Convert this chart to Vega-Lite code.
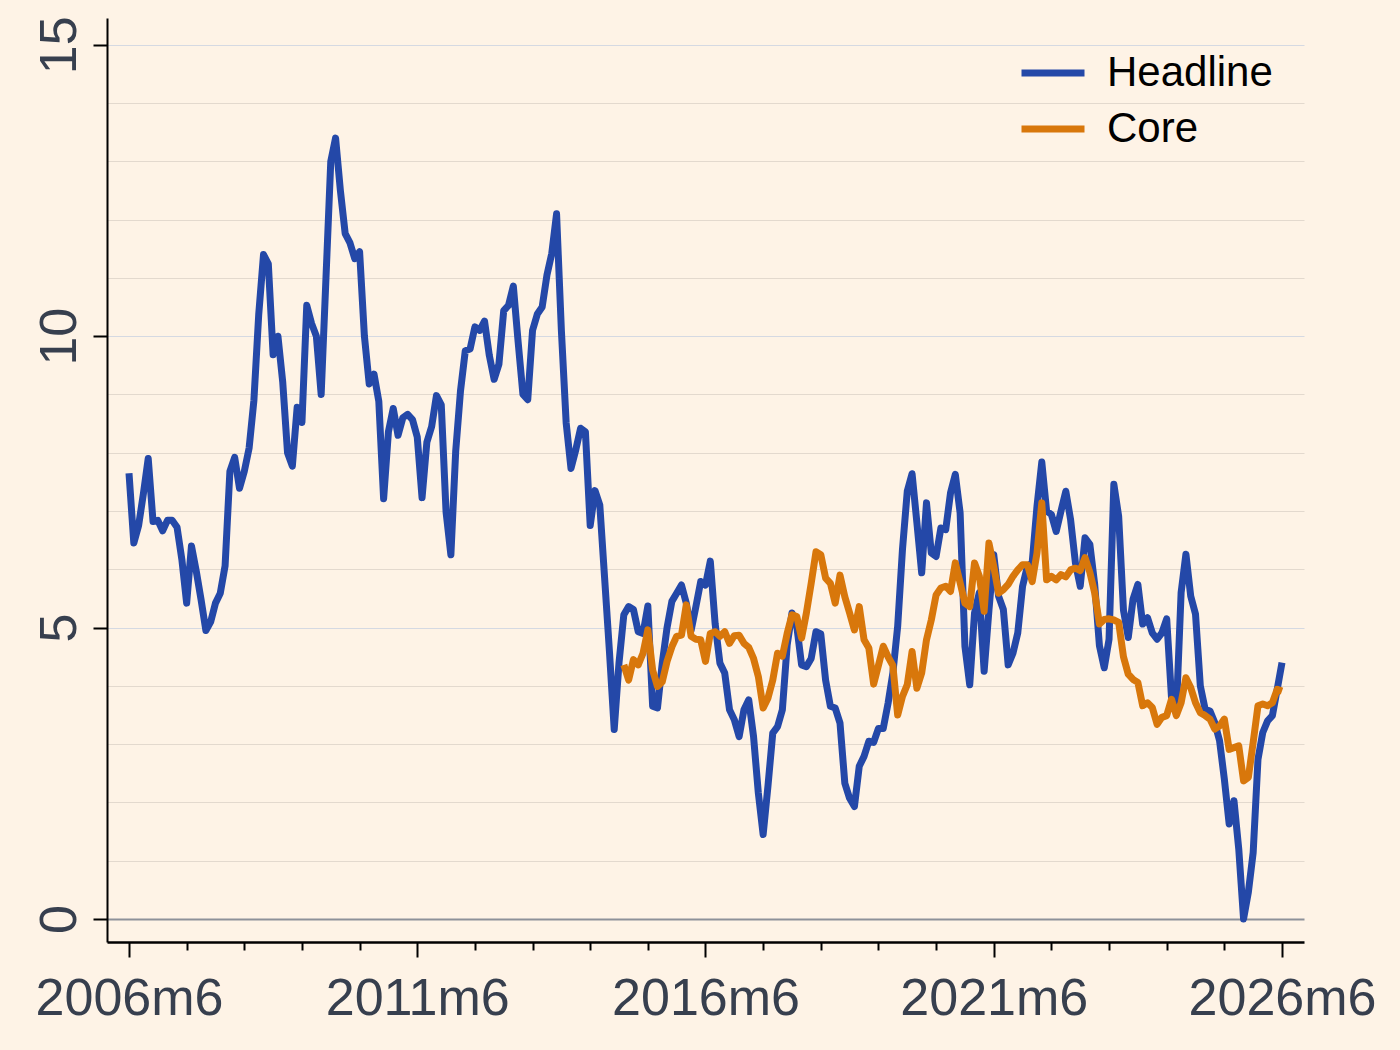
{
  "$schema": "https://vega.github.io/schema/vega-lite/v6.json",
  "width": 1197,
  "height": 924,
  "autosize": {"type": "none"},
  "padding": {"left": 107, "top": 18, "right": 96, "bottom": 108},
  "background": "#fef3e6",
  "config": {"view": {"stroke": null}, "font": "Liberation Sans"},
  "data": {
    "values": [
      {"m": 0, "Headline": 7.65}, {"m": 1, "Headline": 6.45}, {"m": 2, "Headline": 6.75}, {"m": 3, "Headline": 7.3},
      {"m": 4, "Headline": 7.9}, {"m": 5, "Headline": 6.82}, {"m": 6, "Headline": 6.84}, {"m": 7, "Headline": 6.66},
      {"m": 8, "Headline": 6.84}, {"m": 9, "Headline": 6.84}, {"m": 10, "Headline": 6.72}, {"m": 11, "Headline": 6.17},
      {"m": 12, "Headline": 5.42}, {"m": 13, "Headline": 6.4}, {"m": 14, "Headline": 5.97}, {"m": 15, "Headline": 5.48},
      {"m": 16, "Headline": 4.95}, {"m": 17, "Headline": 5.1}, {"m": 18, "Headline": 5.42}, {"m": 19, "Headline": 5.59},
      {"m": 20, "Headline": 6.06}, {"m": 21, "Headline": 7.68}, {"m": 22, "Headline": 7.92}, {"m": 23, "Headline": 7.39},
      {"m": 24, "Headline": 7.68}, {"m": 25, "Headline": 8.08}, {"m": 26, "Headline": 8.9}, {"m": 27, "Headline": 10.37},
      {"m": 28, "Headline": 11.4}, {"m": 29, "Headline": 11.24}, {"m": 30, "Headline": 9.68}, {"m": 31, "Headline": 10.0},
      {"m": 32, "Headline": 9.21}, {"m": 33, "Headline": 8.0}, {"m": 34, "Headline": 7.77}, {"m": 35, "Headline": 8.78},
      {"m": 36, "Headline": 8.52}, {"m": 37, "Headline": 10.53}, {"m": 38, "Headline": 10.22}, {"m": 39, "Headline": 10.0},
      {"m": 40, "Headline": 9.0}, {"m": 41, "Headline": 11.0}, {"m": 42, "Headline": 13.0}, {"m": 43, "Headline": 13.4},
      {"m": 44, "Headline": 12.5}, {"m": 45, "Headline": 11.76}, {"m": 46, "Headline": 11.6}, {"m": 47, "Headline": 11.33},
      {"m": 48, "Headline": 11.45}, {"m": 49, "Headline": 10.0}, {"m": 50, "Headline": 9.18}, {"m": 51, "Headline": 9.35},
      {"m": 52, "Headline": 8.88}, {"m": 53, "Headline": 7.21}, {"m": 54, "Headline": 8.36}, {"m": 55, "Headline": 8.76},
      {"m": 56, "Headline": 8.3}, {"m": 57, "Headline": 8.6}, {"m": 58, "Headline": 8.66}, {"m": 59, "Headline": 8.57},
      {"m": 60, "Headline": 8.27}, {"m": 61, "Headline": 7.23}, {"m": 62, "Headline": 8.18}, {"m": 63, "Headline": 8.45},
      {"m": 64, "Headline": 8.98}, {"m": 65, "Headline": 8.82}, {"m": 66, "Headline": 6.98}, {"m": 67, "Headline": 6.25},
      {"m": 68, "Headline": 8.02}, {"m": 69, "Headline": 9.06}, {"m": 70, "Headline": 9.75}, {"m": 71, "Headline": 9.78},
      {"m": 72, "Headline": 10.16}, {"m": 73, "Headline": 10.1}, {"m": 74, "Headline": 10.26}, {"m": 75, "Headline": 9.67},
      {"m": 76, "Headline": 9.26}, {"m": 77, "Headline": 9.52}, {"m": 78, "Headline": 10.44}, {"m": 79, "Headline": 10.53},
      {"m": 80, "Headline": 10.86}, {"m": 81, "Headline": 9.9}, {"m": 82, "Headline": 9.0}, {"m": 83, "Headline": 8.91},
      {"m": 84, "Headline": 10.1}, {"m": 85, "Headline": 10.38}, {"m": 86, "Headline": 10.5}, {"m": 87, "Headline": 11.05},
      {"m": 88, "Headline": 11.42}, {"m": 89, "Headline": 12.1}, {"m": 90, "Headline": 10.1}, {"m": 91, "Headline": 8.51},
      {"m": 92, "Headline": 7.73}, {"m": 93, "Headline": 8.05}, {"m": 94, "Headline": 8.42}, {"m": 95, "Headline": 8.36},
      {"m": 96, "Headline": 6.75}, {"m": 97, "Headline": 7.35}, {"m": 98, "Headline": 7.1}, {"m": 99, "Headline": 5.85},
      {"m": 100, "Headline": 4.6}, {"m": 101, "Headline": 3.25}, {"m": 102, "Headline": 4.4},
      {"m": 103, "Headline": 5.22, "Core": 4.36}, {"m": 104, "Headline": 5.36, "Core": 4.1},
      {"m": 105, "Headline": 5.31, "Core": 4.45}, {"m": 106, "Headline": 4.93, "Core": 4.36},
      {"m": 107, "Headline": 4.9, "Core": 4.56}, {"m": 108, "Headline": 5.37, "Core": 4.96},
      {"m": 109, "Headline": 3.65, "Core": 4.27}, {"m": 110, "Headline": 3.62, "Core": 3.99},
      {"m": 111, "Headline": 4.39, "Core": 4.07}, {"m": 112, "Headline": 5.0, "Core": 4.42},
      {"m": 113, "Headline": 5.45, "Core": 4.67}, {"m": 114, "Headline": 5.59, "Core": 4.85},
      {"m": 115, "Headline": 5.73, "Core": 4.87}, {"m": 116, "Headline": 5.42, "Core": 5.39},
      {"m": 117, "Headline": 4.95, "Core": 4.85}, {"m": 118, "Headline": 5.36, "Core": 4.8},
      {"m": 119, "Headline": 5.79, "Core": 4.79}, {"m": 120, "Headline": 5.73, "Core": 4.42},
      {"m": 121, "Headline": 6.14, "Core": 4.9}, {"m": 122, "Headline": 5.07, "Core": 4.93},
      {"m": 123, "Headline": 4.39, "Core": 4.85}, {"m": 124, "Headline": 4.22, "Core": 4.93},
      {"m": 125, "Headline": 3.59, "Core": 4.73}, {"m": 126, "Headline": 3.42, "Core": 4.86},
      {"m": 127, "Headline": 3.13, "Core": 4.87}, {"m": 128, "Headline": 3.59, "Core": 4.73},
      {"m": 129, "Headline": 3.76, "Core": 4.66}, {"m": 130, "Headline": 3.13, "Core": 4.47},
      {"m": 131, "Headline": 2.16, "Core": 4.16}, {"m": 132, "Headline": 1.45, "Core": 3.62},
      {"m": 133, "Headline": 2.28, "Core": 3.79}, {"m": 134, "Headline": 3.19, "Core": 4.1},
      {"m": 135, "Headline": 3.3, "Core": 4.56}, {"m": 136, "Headline": 3.59, "Core": 4.51},
      {"m": 137, "Headline": 4.7, "Core": 4.9}, {"m": 138, "Headline": 5.25, "Core": 5.22},
      {"m": 139, "Headline": 5.02, "Core": 5.19}, {"m": 140, "Headline": 4.36, "Core": 4.82},
      {"m": 141, "Headline": 4.33, "Core": 5.25}, {"m": 142, "Headline": 4.47, "Core": 5.76},
      {"m": 143, "Headline": 4.93, "Core": 6.3}, {"m": 144, "Headline": 4.89, "Core": 6.25},
      {"m": 145, "Headline": 4.1, "Core": 5.85}, {"m": 146, "Headline": 3.65, "Core": 5.76},
      {"m": 147, "Headline": 3.62, "Core": 5.42}, {"m": 148, "Headline": 3.36, "Core": 5.9},
      {"m": 149, "Headline": 2.33, "Core": 5.53}, {"m": 150, "Headline": 2.07, "Core": 5.25},
      {"m": 151, "Headline": 1.93, "Core": 4.96}, {"m": 152, "Headline": 2.62, "Core": 5.36},
      {"m": 153, "Headline": 2.79, "Core": 4.79}, {"m": 154, "Headline": 3.05, "Core": 4.65},
      {"m": 155, "Headline": 3.03, "Core": 4.03}, {"m": 156, "Headline": 3.27, "Core": 4.35},
      {"m": 157, "Headline": 3.27, "Core": 4.68}, {"m": 158, "Headline": 3.7, "Core": 4.5},
      {"m": 159, "Headline": 4.22, "Core": 4.35}, {"m": 160, "Headline": 5.02, "Core": 3.5},
      {"m": 161, "Headline": 6.34, "Core": 3.82}, {"m": 162, "Headline": 7.34, "Core": 4.02},
      {"m": 163, "Headline": 7.64, "Core": 4.59}, {"m": 164, "Headline": 6.8, "Core": 3.96},
      {"m": 165, "Headline": 5.94, "Core": 4.22}, {"m": 166, "Headline": 7.14, "Core": 4.79},
      {"m": 167, "Headline": 6.28, "Core": 5.13}, {"m": 168, "Headline": 6.22, "Core": 5.56},
      {"m": 169, "Headline": 6.71, "Core": 5.68}, {"m": 170, "Headline": 6.68, "Core": 5.71},
      {"m": 171, "Headline": 7.31, "Core": 5.62}, {"m": 172, "Headline": 7.63, "Core": 6.11},
      {"m": 173, "Headline": 6.97, "Core": 5.77}, {"m": 174, "Headline": 4.68, "Core": 5.42},
      {"m": 175, "Headline": 4.02, "Core": 5.36}, {"m": 176, "Headline": 5.25, "Core": 6.11},
      {"m": 177, "Headline": 5.6, "Core": 5.88}, {"m": 178, "Headline": 4.25, "Core": 5.28},
      {"m": 179, "Headline": 5.3, "Core": 6.45}, {"m": 180, "Headline": 6.25, "Core": 6.05},
      {"m": 181, "Headline": 5.54, "Core": 5.59}, {"m": 182, "Headline": 5.31, "Core": 5.65},
      {"m": 183, "Headline": 4.36, "Core": 5.74}, {"m": 184, "Headline": 4.56, "Core": 5.88},
      {"m": 185, "Headline": 4.91, "Core": 5.99}, {"m": 186, "Headline": 5.71, "Core": 6.08},
      {"m": 187, "Headline": 6.05, "Core": 6.08}, {"m": 188, "Headline": 6.11, "Core": 5.79},
      {"m": 189, "Headline": 7.08, "Core": 6.28}, {"m": 190, "Headline": 7.84, "Core": 7.14},
      {"m": 191, "Headline": 7.0, "Core": 5.82}, {"m": 192, "Headline": 6.94, "Core": 5.88},
      {"m": 193, "Headline": 6.65, "Core": 5.82}, {"m": 194, "Headline": 7.0, "Core": 5.91},
      {"m": 195, "Headline": 7.34, "Core": 5.87}, {"m": 196, "Headline": 6.85, "Core": 5.99},
      {"m": 197, "Headline": 6.11, "Core": 6.02}, {"m": 198, "Headline": 5.71, "Core": 5.98},
      {"m": 199, "Headline": 6.54, "Core": 6.2}, {"m": 200, "Headline": 6.43, "Core": 5.95},
      {"m": 201, "Headline": 5.75, "Core": 5.6}, {"m": 202, "Headline": 4.69, "Core": 5.06},
      {"m": 203, "Headline": 4.31, "Core": 5.14}, {"m": 204, "Headline": 4.8, "Core": 5.15},
      {"m": 205, "Headline": 7.46, "Core": 5.13}, {"m": 206, "Headline": 6.91, "Core": 5.09},
      {"m": 207, "Headline": 5.3, "Core": 4.5}, {"m": 208, "Headline": 4.83, "Core": 4.2},
      {"m": 209, "Headline": 5.49, "Core": 4.11}, {"m": 210, "Headline": 5.74, "Core": 4.06},
      {"m": 211, "Headline": 5.06, "Core": 3.66}, {"m": 212, "Headline": 5.17, "Core": 3.71},
      {"m": 213, "Headline": 4.91, "Core": 3.63}, {"m": 214, "Headline": 4.8, "Core": 3.34},
      {"m": 215, "Headline": 4.91, "Core": 3.46}, {"m": 216, "Headline": 5.15, "Core": 3.49},
      {"m": 217, "Headline": 3.8, "Core": 3.77}, {"m": 218, "Headline": 3.54, "Core": 3.49},
      {"m": 219, "Headline": 5.6, "Core": 3.71}, {"m": 220, "Headline": 6.26, "Core": 4.14},
      {"m": 221, "Headline": 5.54, "Core": 3.97}, {"m": 222, "Headline": 5.23, "Core": 3.71},
      {"m": 223, "Headline": 4.0, "Core": 3.54}, {"m": 224, "Headline": 3.6, "Core": 3.49},
      {"m": 225, "Headline": 3.57, "Core": 3.43}, {"m": 226, "Headline": 3.37, "Core": 3.26},
      {"m": 227, "Headline": 3.06, "Core": 3.31}, {"m": 228, "Headline": 2.4, "Core": 3.43},
      {"m": 229, "Headline": 1.63, "Core": 2.91}, {"m": 230, "Headline": 2.03, "Core": 2.94},
      {"m": 231, "Headline": 1.2, "Core": 2.97}, {"m": 232, "Headline": 0.0, "Core": 2.37},
      {"m": 233, "Headline": 0.46, "Core": 2.43}, {"m": 234, "Headline": 1.14, "Core": 3.03},
      {"m": 235, "Headline": 2.74, "Core": 3.66}, {"m": 236, "Headline": 3.2, "Core": 3.69},
      {"m": 237, "Headline": 3.4, "Core": 3.66}, {"m": 238, "Headline": 3.49, "Core": 3.71},
      {"m": 239, "Headline": 3.94, "Core": 3.94}, {"m": 240, "Headline": 4.4, "Core": 3.91}
    ]
  },
  "transform": [
    {"fold": ["Headline", "Core"], "as": ["series", "rate"]}
  ],
  "encoding": {
    "x": {
      "field": "m",
      "type": "quantitative",
      "scale": {"domain": [-4.58, 244.58], "nice": false, "zero": false},
      "axis": {
        "title": null,
        "grid": false,
        "values": [0, 12, 24, 36, 48, 60, 72, 84, 96, 108, 120, 132, 144, 156, 168, 180, 192, 204, 216, 228, 240],
        "labelExpr": "datum.value % 60 === 0 ? (floor((datum.value + 5) / 12) + 2006) + 'm' + ((datum.value + 5) % 12 + 1) : ''",
        "tickSize": {"condition": {"test": "datum.value % 60 === 0", "value": 15}, "value": 8},
        "tickWidth": 2,
        "tickColor": "#000000",
        "domainColor": "#000000",
        "domainWidth": 2.5,
        "labelFont": "Liberation Sans",
        "labelFontSize": 52,
        "labelColor": "#373f4e",
        "labelPadding": 16,
        "labelLimit": 0,
        "labelFlush": false,
        "labelOverlap": false,
        "labelBound": false
      }
    },
    "y": {
      "field": "rate",
      "type": "quantitative",
      "scale": {"domain": [-0.395, 15.46], "nice": false, "zero": false},
      "axis": {
        "title": null,
        "values": [0, 1, 2, 3, 4, 5, 6, 7, 8, 9, 10, 11, 12, 13, 14, 15],
        "grid": true,
        "gridColor": {"condition": [{"test": "datum.value === 0", "value": "#8d9199"}, {"test": "datum.value % 5 === 0", "value": "#d5d9e2"}], "value": "#e3d9ce"},
        "gridWidth": {"condition": {"test": "datum.value === 0", "value": 2}, "value": 1},
        "tickOpacity": {"condition": {"test": "datum.value % 5 === 0", "value": 1}, "value": 0},
        "labelExpr": "datum.value % 5 === 0 ? datum.label : ''",
        "tickSize": 14,
        "tickWidth": 2,
        "tickColor": "#000000",
        "domainColor": "#000000",
        "domainWidth": 2,
        "labelAngle": -90,
        "labelAlign": "center",
        "labelBaseline": "alphabetic",
        "labelFont": "Liberation Sans",
        "labelFontSize": 52,
        "labelColor": "#373f4e",
        "labelPadding": 18,
        "labelLimit": 0,
        "labelOverlap": false,
        "labelBound": false
      }
    },
    "color": {
      "field": "series",
      "type": "nominal",
      "scale": {"domain": ["Headline", "Core"], "range": ["#2448a8", "#d8770b"]},
      "legend": {
        "title": null,
        "orient": "none",
        "legendX": 911,
        "legendY": 20,
        "padding": 0,
        "symbolType": "stroke",
        "symbolStrokeWidth": 7,
        "symbolSize": 3969,
        "labelFont": "Liberation Sans",
        "labelFontSize": 42,
        "labelColor": "#000000",
        "labelOffset": 19,
        "labelLimit": 0,
        "rowPadding": 0
      }
    }
  },
  "layer": [
    {
      "transform": [{"filter": "datum.series === 'Headline' && isValid(datum.rate)"}],
      "mark": {"type": "line", "strokeWidth": 7, "strokeJoin": "round"}
    },
    {
      "transform": [{"filter": "datum.series === 'Core' && isValid(datum.rate)"}],
      "mark": {"type": "line", "strokeWidth": 7, "strokeJoin": "round"}
    }
  ]
}
